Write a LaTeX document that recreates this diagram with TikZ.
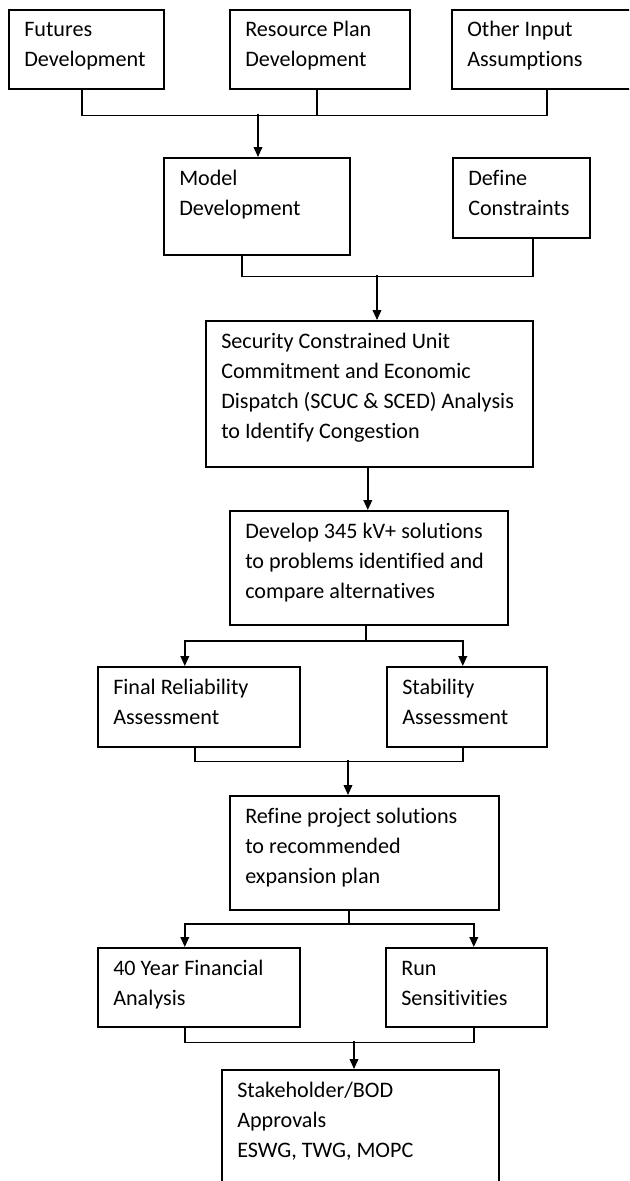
\documentclass[tikz,border=0pt]{standalone}
\usepackage{fontspec}
\setmainfont[Ligatures=NoCommon]{Carlito}
\usetikzlibrary{arrows.meta,calc}
\newcommand\fbx[5]{%
  \node[box, minimum width={(#4-#2)*0.75pt}, minimum height={(#5-#3)*0.75pt}] (#1) at (#2,#3) {};}
\newcommand\ftx[2]{%
  \node[txt] (#1t) at ($(#1.north west)+(16,28)$) {\begin{tabular}[t]{@{}l@{}}#2\end{tabular}};}
\begin{document}
\begin{tikzpicture}[x=0.75pt,y=-0.75pt,
  box/.style={draw, line width=1.2pt, rectangle, inner sep=0pt, anchor=north west},
  txt/.style={anchor=base west, inner sep=0pt, font=\fontsize{16.6}{22.5}\selectfont},
  conn/.style={line width=1.2pt},
  arr/.style={conn, -{Triangle[length=7.5pt,width=6.5pt]}}]
\useasboundingbox (0,0) rectangle (629,1181);
\clip (0,0) rectangle (629,1181);
\fill[white] (0,0) rectangle (629,1181);
% boxes
\fbx{fut}{8}{9}{163}{88}
\fbx{res}{229}{9}{409}{88}
\fbx{oth}{451}{9}{641}{88}
\fbx{mod}{163}{157}{349}{254}
\fbx{def}{452}{157}{589}{237}
\fbx{scuc}{205}{320}{532}{466}
\fbx{dev}{229}{510}{507}{624}
\fbx{rel}{97}{666}{299}{746}
\fbx{stab}{386}{666}{546}{746}
\fbx{ref}{229}{795}{498}{909}
\fbx{fin}{97}{947}{299}{1026}
\fbx{run}{385}{947}{546}{1026}
\fbx{stk}{221}{1069}{498}{1200}
% texts
\ftx{fut}{Futures\\Development}
\ftx{res}{Resource Plan\\Development}
\ftx{oth}{Other Input\\Assumptions}
\ftx{mod}{Model\\Development}
\ftx{def}{Define\\Constraints}
\ftx{scuc}{Security Constrained Unit\\Commitment and Economic\\Dispatch (SCUC \& SCED) Analysis\\to Identify Congestion}
\ftx{dev}{Develop 345 kV+ solutions\\to problems identified and\\compare alternatives}
\ftx{rel}{Final Reliability\\Assessment}
\ftx{stab}{Stability\\Assessment}
\ftx{ref}{Refine project solutions\\to recommended\\expansion plan}
\ftx{fin}{40 Year Financial\\Analysis}
\ftx{run}{Run\\Sensitivities}
\ftx{stk}{Stakeholder/BOD\\Approvals\\ESWG, TWG, MOPC}
% junctions
\coordinate (j1) at (258,114);
\coordinate (j2) at (377,275);
\coordinate (j3) at (366,641);
\coordinate (j4) at (348,760);
\coordinate (j5) at (349,924);
\coordinate (j6) at (354,1041);
% connectors
\draw[conn] ($(fut.south)+(-4.5,0)$) |- ($(oth.south)+(0,26)$) -- (oth.south);
\draw[conn] ($(res.south)+(-3,0)$) -- ++(0,26);
\draw[arr] (j1) -- (j1 |- mod.north);
\draw[conn] ($(mod.south)+(-15,0)$) |- ($(def.south)+(11.5,38)$) -- ($(def.south)+(11.5,0)$);
\draw[arr] (j2) -- (j2 |- scuc.north);
\draw[arr] ($(scuc.south)+(-1.5,0)$) -- ($(dev.north)+(-1,0)$);
\draw[conn] (dev.south -| j3) -- (j3);
\draw[arr] (j3) -| ($(rel.north)+(-14,0)$);
\draw[arr] (j3) -| ($(stab.north)+(-4,0)$);
\draw[conn] ($(rel.south)+(-4,0)$) |- ($(stab.south)+(-4,14)$) -- ($(stab.south)+(-4,0)$);
\draw[arr] (j4) -- (j4 |- ref.north);
\draw[conn] (ref.south -| j5) -- (j5);
\draw[arr] (j5) -| ($(fin.north)+(-14,0)$);
\draw[arr] (j5) -| ($(run.north)+(7.5,0)$);
\draw[conn] ($(fin.south)+(-14,0)$) |- ($(run.south)+(7.5,15)$) -- ($(run.south)+(7.5,0)$);
\draw[arr] (j6) -- (j6 |- stk.north);
\end{tikzpicture}
\end{document}
